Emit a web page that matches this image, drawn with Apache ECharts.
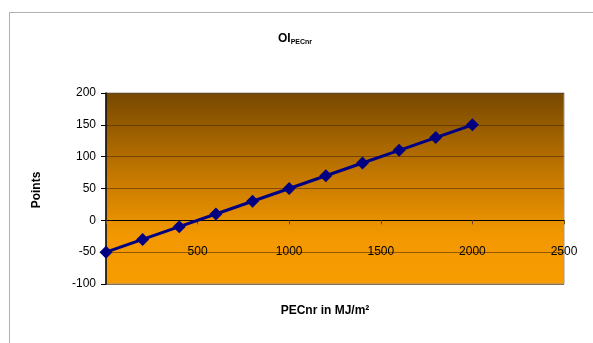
<!DOCTYPE html>
<html><head><meta charset="utf-8">
<script src="https://cdn.jsdelivr.net/npm/echarts@6/dist/echarts.min.js"></script>
<style>html,body{margin:0;padding:0;background:#fff;}#c{width:593px;height:343px;}</style>
</head><body><div id="c"></div>
<script>
const xValues = [0, 200, 400, 600, 800, 1000, 1200, 1400, 1600, 1800, 2000];
const points = [-50, -30, -10, 10, 30, 50, 70, 90, 110, 130, 150];
const titleMain = 'OI';
const titleSub = 'PECnr';
const xAxisName = 'PECnr in MJ/m²';
const yAxisName = 'Points';

const chart = echarts.init(document.getElementById('c'), null, {renderer: 'canvas'});
const font = '"Liberation Sans", Arial, sans-serif';
chart.setOption({
  animation: false,
  backgroundColor: '#fff',
  title: {
    text: '{a|' + titleMain + '}{b|' + titleSub + '}',
    left: 290, top: 27, textAlign: 'center',
    textStyle: {
      rich: {
        a: {fontFamily: font, fontWeight: 'bold', fontSize: 12, color: '#000'},
        b: {fontFamily: font, fontWeight: 'bold', fontSize: 7, color: '#000', padding: [7, 0, 0, 0]}
      }
    }
  },
  graphic: [
    {type: 'rect', shape: {x: 9.5, y: 12.5, width: 600, height: 400}, style: {fill: 'none', stroke: '#b0b0b0', lineWidth: 1}, z: -10},
    {type: 'text', x: 325, y: 311, style: {text: xAxisName, font: 'bold 12px ' + font, fill: '#000', textAlign: 'center', textVerticalAlign: 'middle'}},
    {type: 'text', x: 37, y: 190, rotation: Math.PI / 2, style: {text: yAxisName, font: 'bold 12px ' + font, fill: '#000', textAlign: 'center', textVerticalAlign: 'middle'}}
  ],
  grid: {
    left: 106, top: 93, right: 29, bottom: 59,
    show: true,
    borderColor: '#a09a90', borderWidth: 1,
    backgroundColor: {
      type: 'linear', x: 0, y: 0, x2: 0, y2: 1,
      colorStops: [
        {offset: 0, color: '#774800'},
        {offset: 0.45, color: '#c77a00'},
        {offset: 0.75, color: '#f39800'},
        {offset: 1, color: '#f79c00'}
      ]
    }
  },
  xAxis: {
    type: 'value', min: 0, max: 2500, interval: 500,
    axisLine: {show: true, onZero: true, lineStyle: {color: '#000', width: 1}},
    axisTick: {show: true, length: 4, lineStyle: {color: '#6a4a20'}},
    axisLabel: {show: true, margin: -38, fontFamily: font, fontSize: 12, color: '#000',
      formatter: v => v === 0 ? '' : String(v)},
    splitLine: {show: false}
  },
  yAxis: {
    type: 'value', min: -100, max: 200, interval: 50,
    axisLine: {show: true, lineStyle: {color: '#000', width: 1.5}},
    axisTick: {show: true, length: 5, lineStyle: {color: '#000'}},
    axisLabel: {margin: 10, fontFamily: font, fontSize: 12, color: '#000'},
    splitLine: {show: true, lineStyle: {color: 'rgba(70,35,0,0.55)', width: 1}}
  },
  series: [{
    type: 'line',
    data: xValues.map((x, i) => [x, points[i]]),
    symbol: 'diamond', symbolSize: 13,
    itemStyle: {color: '#000080'},
    lineStyle: {color: '#000080', width: 3},
    clip: false,
    z: 5
  }]
});
</script></body></html>
